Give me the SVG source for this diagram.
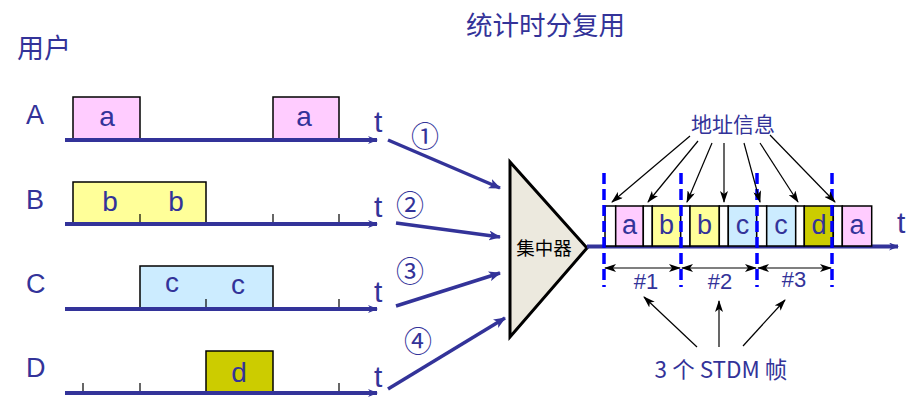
<svg xmlns="http://www.w3.org/2000/svg" width="924" height="414" viewBox="0 0 924 414">
<style>
text{font-family:"Liberation Sans","Noto Sans CJK SC",sans-serif;fill:#333399}
.cjk{font-family:"Noto Sans CJK SC","Liberation Sans",sans-serif}
.axis{stroke:#333399;stroke-width:4;fill:none}
.tick{stroke:#000;stroke-width:1.2}
.box{stroke:#000;stroke-width:1.5}
.feed{stroke:#333399;stroke-width:3.5;fill:none}
.thin{stroke:#000;stroke-width:1.2;fill:none}
.dash{stroke:#0000FF;stroke-width:3.5;stroke-dasharray:11 5;fill:none}
.lbl{font-size:27px}
.bt{font-size:28px;text-anchor:middle}
.ft{font-size:27px;text-anchor:middle}
.t{font-size:30px}
.circ{font-size:28px;text-anchor:middle}
.num{font-size:22px;text-anchor:middle}
</style>
<defs>
<marker id="ah" markerWidth="10" markerHeight="8" refX="9" refY="4" orient="auto" markerUnits="userSpaceOnUse"><path d="M0,0 L10,4 L0,8 L3,4 Z" fill="#333399"/></marker>
<marker id="ab" markerWidth="12" markerHeight="10" refX="11" refY="5" orient="auto" markerUnits="userSpaceOnUse"><path d="M0,0 L12,5 L0,10 L3,5 Z" fill="#333399"/></marker>
<marker id="ak" markerWidth="12" markerHeight="8" refX="11" refY="4" orient="auto" markerUnits="userSpaceOnUse"><path d="M0,0 L12,4 L0,8 L3,4 Z" fill="#000"/></marker>
<marker id="aks" markerWidth="12" markerHeight="8" refX="1" refY="4" orient="auto" markerUnits="userSpaceOnUse"><path d="M12,0 L0,4 L12,8 L9,4 Z" fill="#000"/></marker>
</defs>
<text x="466" y="35" class="cjk" style="font-size:26.5px">统计时分复用</text>
<text x="17" y="58" class="cjk" style="font-size:27px">用户</text>

<g id="userA">
<text x="26" y="124" class="lbl">A</text>
<rect x="73" y="97" width="67" height="43" fill="#FFCCFF" class="box"/>
<rect x="273" y="97" width="66" height="43" fill="#FFCCFF" class="box"/>
<text x="107" y="126" class="bt">a</text>
<text x="304" y="126" class="bt">a</text>
<line x1="65" y1="140" x2="377" y2="140" class="axis" marker-end="url(#ah)"/>
<text x="374" y="132" class="t">t</text>
</g>
<g id="userB">
<text x="26" y="209" class="lbl">B</text>
<rect x="73" y="182" width="133" height="42" fill="#FFFF99" class="box"/>
<line x1="140" y1="214" x2="140" y2="224" class="tick"/>
<line x1="273" y1="214" x2="273" y2="224" class="tick"/>
<line x1="339" y1="214" x2="339" y2="224" class="tick"/>
<text x="110" y="211" class="bt">b</text>
<text x="176" y="211" class="bt">b</text>
<line x1="65" y1="224" x2="377" y2="224" class="axis" marker-end="url(#ah)"/>
<text x="374" y="217" class="t">t</text>
</g>
<g id="userC">
<text x="26" y="293" class="lbl">C</text>
<rect x="140" y="266" width="133" height="43" fill="#CCECFF" class="box"/>
<line x1="206" y1="299" x2="206" y2="309" class="tick"/>
<line x1="339" y1="299" x2="339" y2="309" class="tick"/>
<text x="172" y="292" class="bt">c</text>
<text x="238" y="294" class="bt">c</text>
<line x1="65" y1="309" x2="377" y2="309" class="axis" marker-end="url(#ah)"/>
<text x="374" y="302" class="t">t</text>
</g>
<g id="userD">
<text x="26" y="377" class="lbl">D</text>
<rect x="206" y="351" width="67" height="42" fill="#CCCC00" class="box"/>
<line x1="83" y1="383" x2="83" y2="393" class="tick"/>
<line x1="140" y1="383" x2="140" y2="393" class="tick"/>
<line x1="339" y1="383" x2="339" y2="393" class="tick"/>
<text x="239" y="382" class="bt">d</text>
<line x1="65" y1="393" x2="377" y2="393" class="axis" marker-end="url(#ah)"/>
<text x="374" y="387" class="t">t</text>
</g>

<g id="connectors">
<line x1="388" y1="140" x2="500" y2="188" class="feed" marker-end="url(#ab)"/>
<line x1="396" y1="223" x2="500" y2="237" class="feed" marker-end="url(#ab)"/>
<line x1="396" y1="306" x2="500" y2="273" class="feed" marker-end="url(#ab)"/>
<line x1="388" y1="389" x2="505" y2="318" class="feed" marker-end="url(#ab)"/>
<text x="425" y="147" class="cjk circ">①</text>
<text x="410" y="216" class="cjk circ">②</text>
<text x="410" y="282" class="cjk circ">③</text>
<text x="418" y="352" class="cjk circ">④</text>
</g>

<g id="concentrator">
<polygon points="510,162 510,337 587,248" fill="#ECE9DE" stroke="#000" stroke-width="3" stroke-linejoin="miter"/>
<text x="544" y="255" class="cjk" style="font-size:18.5px;fill:#000;text-anchor:middle">集中器</text>
</g>

<g id="frames">
<line x1="587" y1="246.5" x2="898" y2="246.5" class="axis" marker-end="url(#ah)"/>
<g class="box">
<rect x="605" y="206" width="10.7" height="40" fill="#fff"/>
<rect x="615.7" y="206" width="27.6" height="40" fill="#FFCCFF"/>
<rect x="643.3" y="206" width="9" height="40" fill="#fff"/>
<rect x="652.3" y="206" width="28.4" height="40" fill="#FFFF99"/>
<rect x="680.7" y="206" width="9.3" height="40" fill="#fff"/>
<rect x="690" y="206" width="29.3" height="40" fill="#FFFF99"/>
<rect x="719.3" y="206" width="9" height="40" fill="#fff"/>
<rect x="728.3" y="206" width="28.4" height="40" fill="#CCECFF"/>
<rect x="756.7" y="206" width="10" height="40" fill="#fff"/>
<rect x="766.7" y="206" width="29" height="40" fill="#CCECFF"/>
<rect x="795.7" y="206" width="8.6" height="40" fill="#fff"/>
<rect x="804.3" y="206" width="29" height="40" fill="#CCCC00"/>
<rect x="833.3" y="206" width="9" height="40" fill="#fff"/>
<rect x="842.3" y="206" width="29.4" height="40" fill="#FFCCFF"/>
</g>
<text x="629.5" y="234" class="ft">a</text>
<text x="666.5" y="234" class="ft">b</text>
<text x="704.5" y="234" class="ft">b</text>
<text x="742.5" y="234" class="ft">c</text>
<text x="781" y="234" class="ft">c</text>
<text x="819" y="234" class="ft">d</text>
<text x="857" y="234" class="ft">a</text>
<text x="897" y="233" class="t">t</text>
<line x1="604" y1="173" x2="604" y2="287" class="dash"/>
<line x1="681" y1="173" x2="681" y2="287" class="dash"/>
<line x1="757" y1="173" x2="757" y2="287" class="dash"/>
<line x1="832" y1="173" x2="832" y2="287" class="dash"/>
<line x1="605" y1="268" x2="680" y2="268" class="thin" marker-start="url(#aks)" marker-end="url(#ak)"/>
<line x1="682" y1="268" x2="756" y2="268" class="thin" marker-start="url(#aks)" marker-end="url(#ak)"/>
<line x1="758" y1="268" x2="831" y2="268" class="thin" marker-start="url(#aks)" marker-end="url(#ak)"/>
<text x="646" y="289" class="num">#1</text>
<text x="720" y="289" class="num">#2</text>
<text x="794" y="287" class="num">#3</text>
</g>

<g id="address">
<text x="733" y="132" class="cjk" style="font-size:21px;text-anchor:middle">地址信息</text>
<line x1="690" y1="136" x2="612" y2="202" class="thin" marker-end="url(#ak)"/>
<line x1="698" y1="141" x2="648" y2="202" class="thin" marker-end="url(#ak)"/>
<line x1="712" y1="143" x2="687" y2="202" class="thin" marker-end="url(#ak)"/>
<line x1="724" y1="143" x2="724" y2="202" class="thin" marker-end="url(#ak)"/>
<line x1="744" y1="143" x2="760" y2="202" class="thin" marker-end="url(#ak)"/>
<line x1="760" y1="143" x2="798" y2="202" class="thin" marker-end="url(#ak)"/>
<line x1="770" y1="135" x2="835" y2="202" class="thin" marker-end="url(#ak)"/>
</g>

<g id="stdm">
<text x="721" y="378" class="cjk" style="font-size:22.5px;text-anchor:middle">3 个 STDM 帧</text>
<line x1="697" y1="347" x2="644" y2="297" class="thin" marker-end="url(#ak)"/>
<line x1="719" y1="347" x2="719" y2="301" class="thin" marker-end="url(#ak)"/>
<line x1="743" y1="346" x2="785" y2="300" class="thin" marker-end="url(#ak)"/>
</g>
</svg>
